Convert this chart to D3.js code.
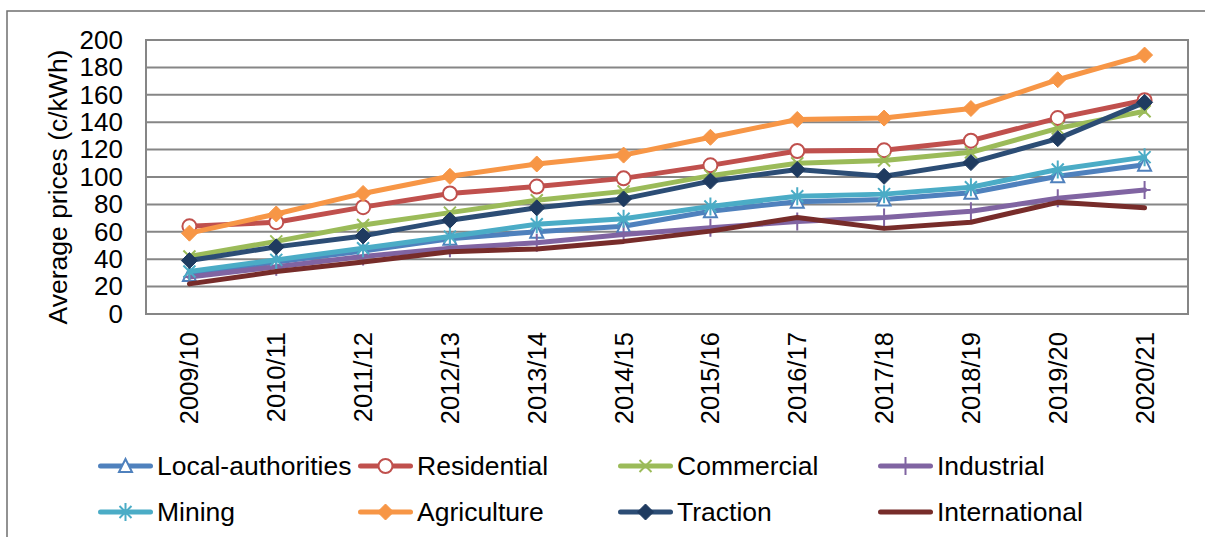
<!DOCTYPE html>
<html>
<head>
<meta charset="utf-8">
<script src="https://cdn.jsdelivr.net/npm/d3@7"></script>
<style>
  html, body { margin: 0; padding: 0; background: #fff; }
  svg { display: block; font-family: "Liberation Sans", Arial, sans-serif; }
</style>
</head>
<body>
<svg id="chart" width="1205" height="537"></svg>
<script>
// Financial years on the x axis
const categories = ["2009/10", "2010/11", "2011/12", "2012/13", "2013/14", "2014/15",
                    "2015/16", "2016/17", "2017/18", "2018/19", "2019/20", "2020/21"];

// Average electricity prices per customer category (c/kWh)
const localAuthorities = [28.5, 38, 46, 55, 60, 64, 75, 82, 83.5, 88.5, 100.5, 109];
const residential      = [64, 67, 78, 88, 93, 99, 108.5, 119, 119.5, 126.5, 143, 156];
const commercial       = [42, 53, 65, 74, 83, 89.5, 101, 110, 112, 118, 135.5, 148];
const industrial       = [27, 34.5, 42, 48, 52, 58, 63, 67.5, 70.5, 75, 84.5, 90.5];
const mining           = [31, 39.5, 48, 56.5, 65.5, 69.5, 78.5, 86, 87.5, 92.5, 105.5, 114.5];
const agriculture      = [59, 73, 88, 100.5, 109.5, 116, 129, 142, 143, 150, 171, 189];
const traction         = [39, 49, 57, 68.5, 77.5, 84, 97, 105.5, 100.5, 110.5, 128, 154.5];
const international    = [22, 31, 38, 45.5, 47.5, 53, 60.5, 70.5, 62.5, 67, 81.5, 77.5];

const yTicks = [0, 20, 40, 60, 80, 100, 120, 140, 160, 180, 200];

const series = [
  { name: "Local-authorities", values: localAuthorities, color: "#4F81BD", marker: "triangle" },
  { name: "Residential",       values: residential,      color: "#C0504D", marker: "circle" },
  { name: "Commercial",        values: commercial,       color: "#9BBB59", marker: "x" },
  { name: "Industrial",        values: industrial,       color: "#8064A2", marker: "plus" },
  { name: "Mining",            values: mining,           color: "#4BACC6", marker: "star" },
  { name: "Agriculture",       values: agriculture,      color: "#F79646", marker: "diamond" },
  { name: "Traction",          values: traction,         color: "#2C4D75", marker: "diamond", markerFill: "#1F3B60" },
  { name: "International",     values: international,    color: "#772C2A", marker: "none" }
];

const svg = d3.select("#chart");
const plot = { left: 146, right: 1188, top: 40, bottom: 314 };
const gridColor = "#868686";
const fontSize = 26;

// Outer chart frame
svg.append("rect")
  .attr("x", 7).attr("y", 11)
  .attr("width", 1220).attr("height", 560)
  .attr("fill", "none").attr("stroke", "#6f6f6f").attr("stroke-width", 1.5);

const x = d3.scaleBand().domain(categories).range([plot.left, plot.right]).padding(0);
const y = d3.scaleLinear().domain([0, 200]).range([plot.bottom, plot.top]);
const cx = d => x(d) + x.bandwidth() / 2;

// Horizontal gridlines
svg.append("g")
  .selectAll("line")
  .data(yTicks)
  .join("line")
  .attr("x1", plot.left).attr("x2", plot.right)
  .attr("y1", d => y(d)).attr("y2", d => y(d))
  .attr("stroke", gridColor).attr("stroke-width", 2);

// Plot area border
svg.append("rect")
  .attr("x", plot.left).attr("y", plot.top)
  .attr("width", plot.right - plot.left).attr("height", plot.bottom - plot.top)
  .attr("fill", "none").attr("stroke", gridColor).attr("stroke-width", 2);

// Y axis labels
const yAxis = d3.axisLeft(y).tickValues(yTicks).tickSize(0).tickPadding(0);
const gy = svg.append("g").attr("transform", `translate(123,0)`).call(yAxis);
gy.select(".domain").remove();
gy.selectAll("text")
  .attr("font-size", fontSize).attr("fill", "#000")
  .attr("font-family", "Liberation Sans, Arial, sans-serif");

// Y axis title
svg.append("text")
  .attr("transform", `translate(67,${(plot.top + plot.bottom) / 2 + 10}) rotate(-90)`)
  .attr("text-anchor", "middle")
  .attr("font-size", 26.5)
  .attr("fill", "#000")
  .text("Average prices (c/kWh)");

// X axis labels, rotated vertically
const xAxis = d3.axisBottom(x).tickSize(0).tickPadding(0);
const gx = svg.append("g").attr("transform", `translate(0,${plot.bottom})`).call(xAxis);
gx.select(".domain").remove();
gx.selectAll("text")
  .attr("font-size", 25.5).attr("fill", "#000")
  .attr("font-family", "Liberation Sans, Arial, sans-serif")
  .attr("text-anchor", "end")
  .attr("dy", "0.35em")
  .attr("transform", "translate(0,18) rotate(-90)");

// Marker drawing helper
function drawMarker(g, type, color, fill, px, py) {
  const s = g.append("g").attr("transform", `translate(${px},${py})`);
  switch (type) {
    case "triangle":
      s.append("path").attr("d", "M0,-7 L6.5,6 L-6.5,6 Z")
        .attr("fill", "#fff").attr("stroke", color).attr("stroke-width", 2);
      break;
    case "circle":
      s.append("circle").attr("r", 7)
        .attr("fill", "#fff").attr("stroke", color).attr("stroke-width", 2);
      break;
    case "x":
      s.append("path").attr("d", "M-6,-6 L6,6 M-6,6 L6,-6")
        .attr("stroke", color).attr("stroke-width", 2);
      break;
    case "plus":
      s.append("path").attr("d", "M0,-9 L0,9 M-6,0 L6,0")
        .attr("stroke", color).attr("stroke-width", 2);
      break;
    case "star":
      s.append("path").attr("d", "M-6,-6 L6,6 M-6,6 L6,-6 M0,-9 L0,9")
        .attr("stroke", color).attr("stroke-width", 2);
      break;
    case "diamond":
      s.append("path").attr("d", "M0,-8 L8,0 L0,8 L-8,0 Z")
        .attr("fill", fill || color).attr("stroke", fill || color).attr("stroke-width", 1);
      break;
  }
}

const line = d3.line().x((d, i) => cx(categories[i])).y(d => y(d));

// Series lines and markers
series.forEach(s => {
  const g = svg.append("g");
  g.append("path")
    .datum(s.values)
    .attr("d", line)
    .attr("fill", "none")
    .attr("stroke", s.color)
    .attr("stroke-width", 5)
    .attr("stroke-linejoin", "round")
    .attr("stroke-linecap", "round");
  if (s.marker !== "none") {
    s.values.forEach((v, i) => drawMarker(g, s.marker, s.color, s.markerFill, cx(categories[i]), y(v)));
  }
});

// Legend in two rows of four
const legendCols = [98, 358, 618, 878];
const legendRows = [466, 512];
const legendLineLen = 55;
series.forEach((s, i) => {
  const lx = legendCols[i % 4];
  const ly = legendRows[Math.floor(i / 4)];
  const g = svg.append("g");
  g.append("line")
    .attr("x1", lx + 2.5).attr("x2", lx + legendLineLen - 2.5)
    .attr("y1", ly).attr("y2", ly)
    .attr("stroke", s.color).attr("stroke-width", 5).attr("stroke-linecap", "round");
  if (s.marker !== "none") drawMarker(g, s.marker, s.color, s.markerFill, lx + legendLineLen / 2, ly);
  g.append("text")
    .attr("x", lx + legendLineLen + 4).attr("y", ly)
    .attr("dy", "0.35em")
    .attr("font-size", 26.5)
    .attr("fill", "#000")
    .text(s.name);
});
</script>
</body>
</html>
